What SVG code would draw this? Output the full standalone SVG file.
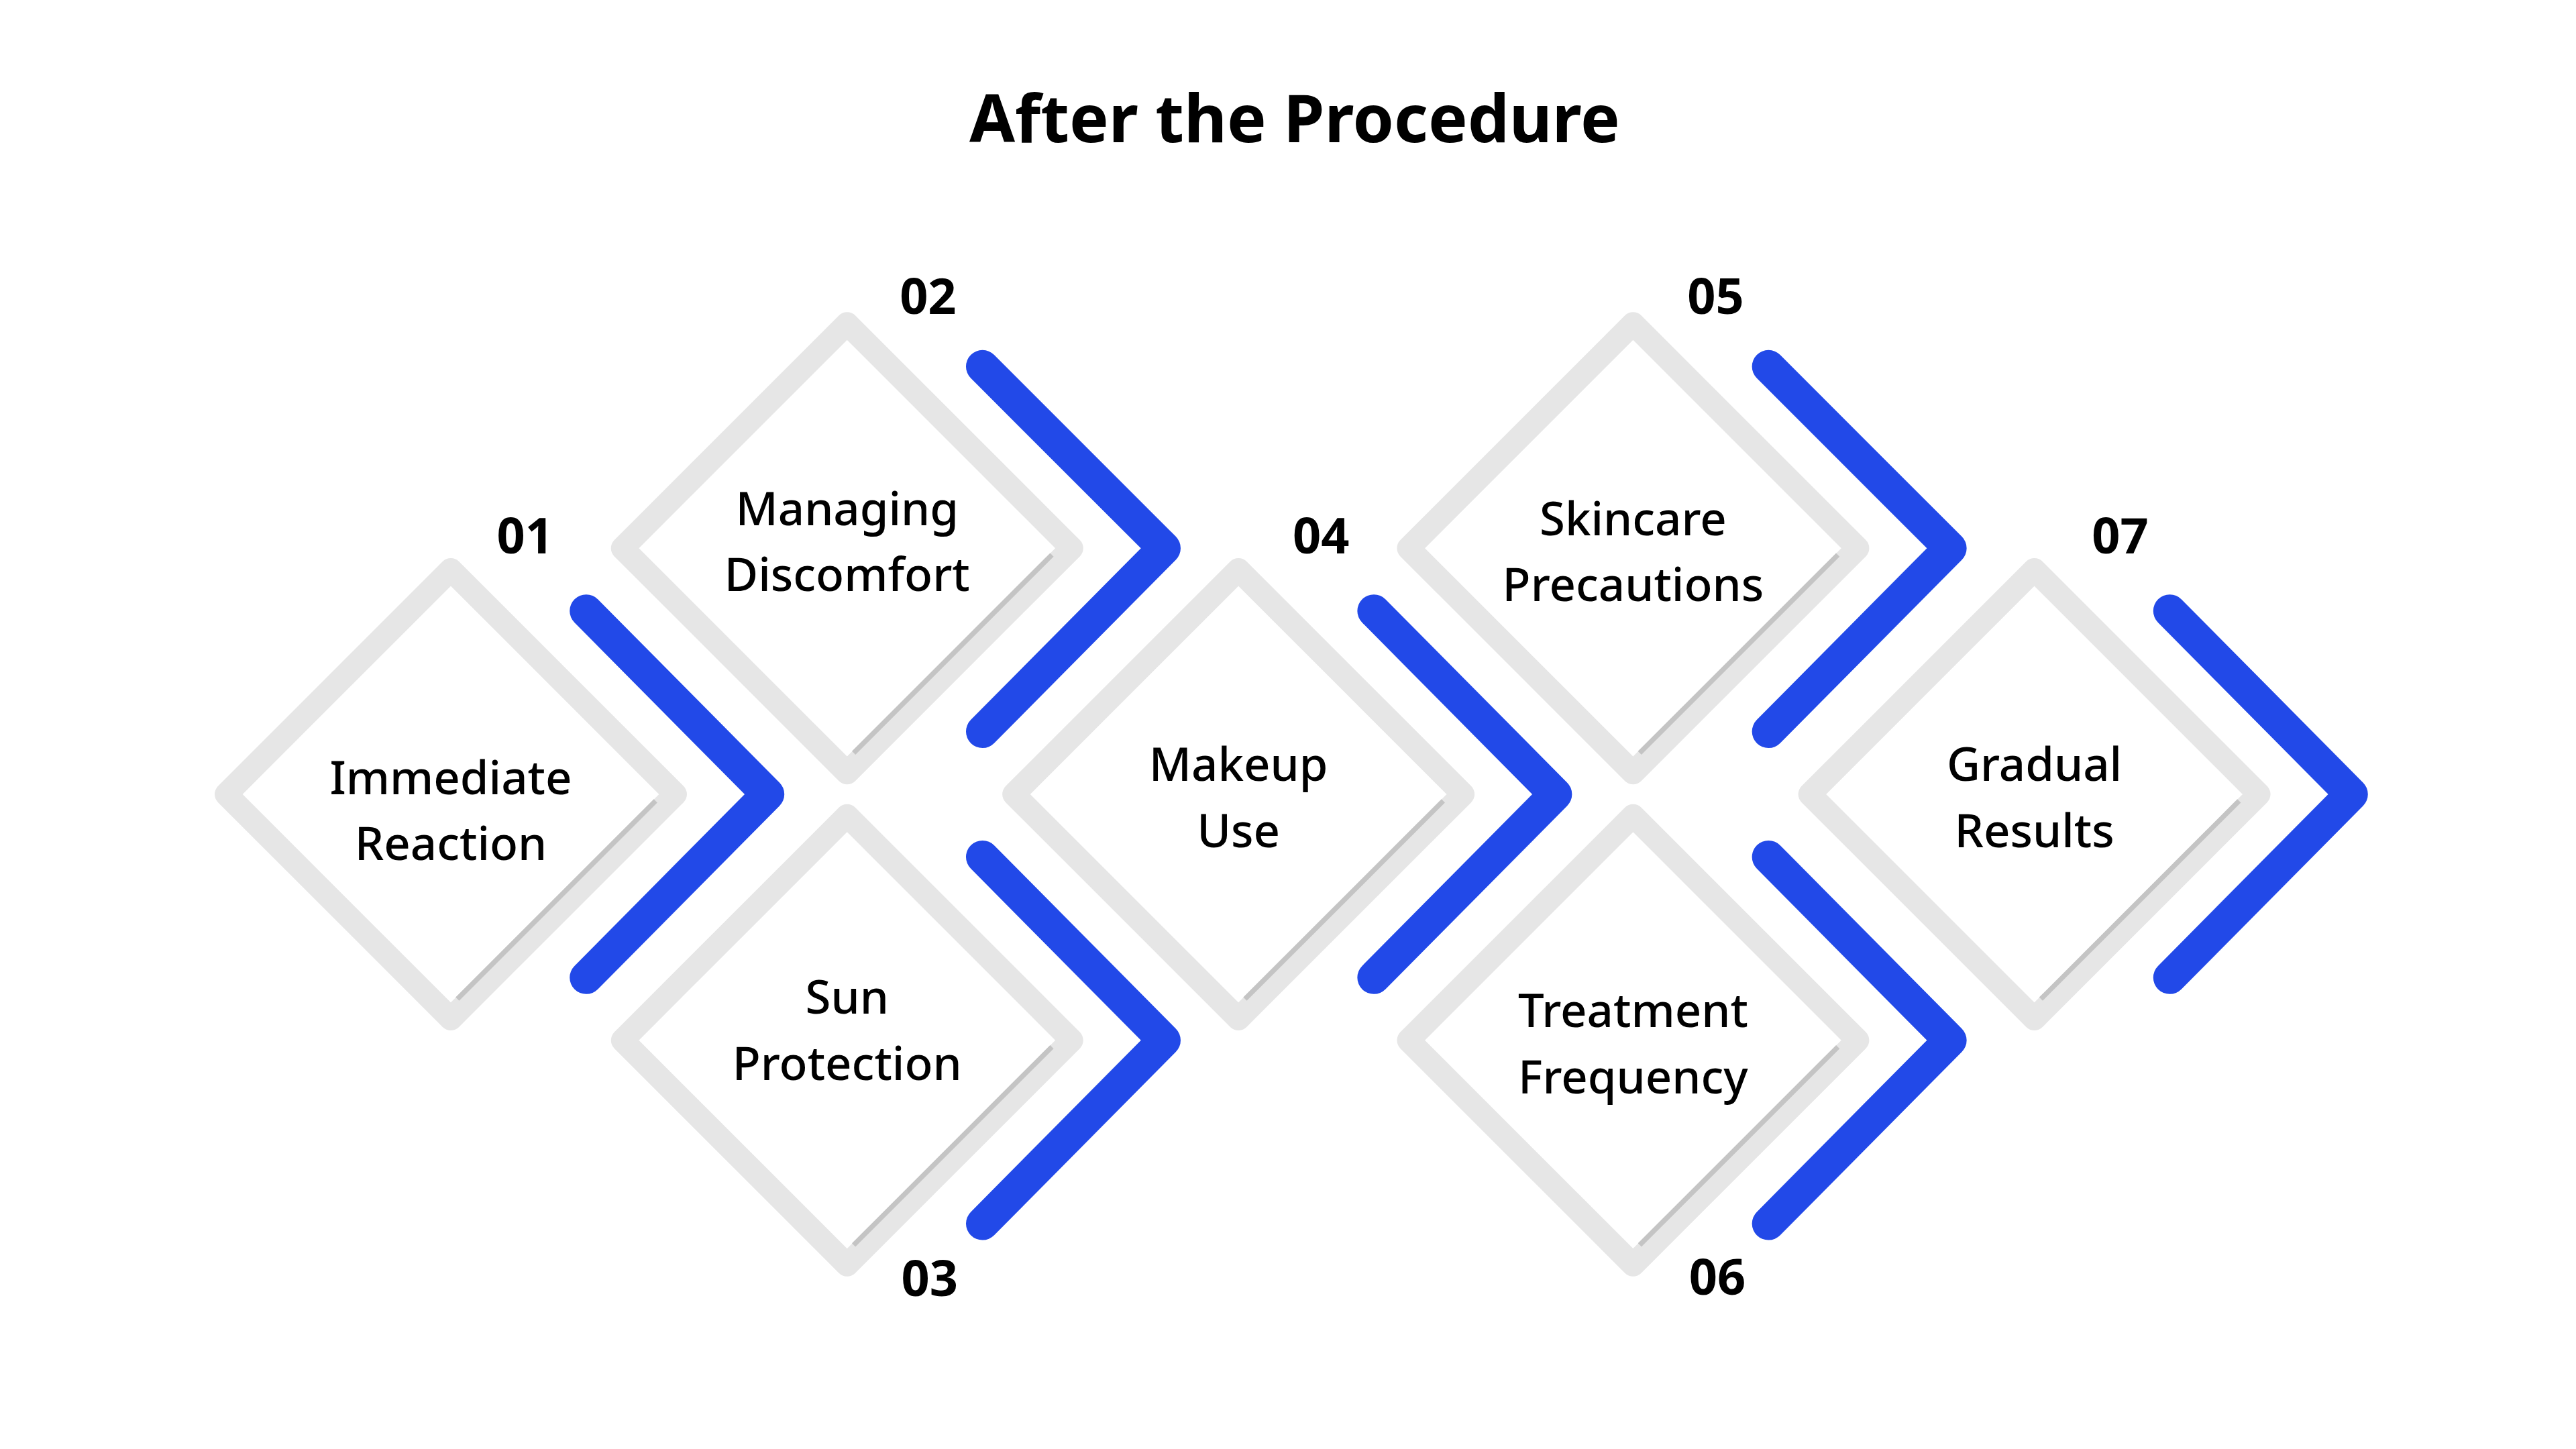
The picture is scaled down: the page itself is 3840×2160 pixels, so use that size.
<svg xmlns="http://www.w3.org/2000/svg" width="3840" height="2160" viewBox="0 0 3840 2160">
<defs>
<style>
.d{fill:none;stroke:#e6e6e6;stroke-width:14;stroke-linejoin:round}
.s{stroke:#c4c4c4;stroke-width:3}
.c{fill:none;stroke:#2249e8;stroke-width:20;stroke-linecap:round;stroke-linejoin:round}
.t{font-family:"Noto Sans","Open Sans",sans-serif;font-size:28px;font-weight:500;fill:#000;text-anchor:middle}
.n{font-family:"Noto Sans","Open Sans",sans-serif;font-size:30px;font-weight:700;fill:#000;text-anchor:middle}
</style>
<g id="dia"><path class="d" d="M0,-136 L136,0 L0,136 L-136,0 Z"/><line class="s" x1="124" y1="4" x2="4" y2="124"/></g>
</defs>
<rect width="3840" height="2160" fill="#fff"/>
<g transform="scale(2.4615)">
<text x="784" y="86" class="n" style="font-size:40px">After the Procedure</text>
<g id="connectors">
<path class="c" d="M355,370 L465,481 L355,592"/>
<path class="c" d="M595,222 L705,332 L595,443"/>
<path class="c" d="M595,519 L705,630 L595,741"/>
<path class="c" d="M832,370 L942,481 L832,592"/>
<path class="c" d="M1071,222 L1181,332 L1071,443"/>
<path class="c" d="M1071,519 L1181,630 L1071,741"/>
<path class="c" d="M1314,370 L1424,481 L1314,592"/>
</g>
<g id="node1"><use href="#dia" x="273" y="481"/><text class="t" x="273" y="481">Immediate</text><text class="t" x="273" y="521">Reaction</text><text class="n" x="318" y="335">01</text></g>
<g id="node2"><use href="#dia" x="513" y="332"/><text class="t" x="513" y="318">Managing</text><text class="t" x="513" y="358">Discomfort</text><text class="n" x="562" y="190">02</text></g>
<g id="node3"><use href="#dia" x="513" y="630"/><text class="t" x="513" y="614">Sun</text><text class="t" x="513" y="654">Protection</text><text class="n" x="563" y="785">03</text></g>
<g id="node4"><use href="#dia" x="750" y="481"/><text class="t" x="750" y="473">Makeup</text><text class="t" x="750" y="513">Use</text><text class="n" x="800" y="335">04</text></g>
<g id="node5"><use href="#dia" x="989" y="332"/><text class="t" x="989" y="324">Skincare</text><text class="t" x="989" y="364">Precautions</text><text class="n" x="1039" y="190">05</text></g>
<g id="node6"><use href="#dia" x="989" y="630"/><text class="t" x="989" y="622">Treatment</text><text class="t" x="989" y="662">Frequency</text><text class="n" x="1040" y="784">06</text></g>
<g id="node7"><use href="#dia" x="1232" y="481"/><text class="t" x="1232" y="473">Gradual</text><text class="t" x="1232" y="513">Results</text><text class="n" x="1284" y="335">07</text></g>
</g>
</svg>
